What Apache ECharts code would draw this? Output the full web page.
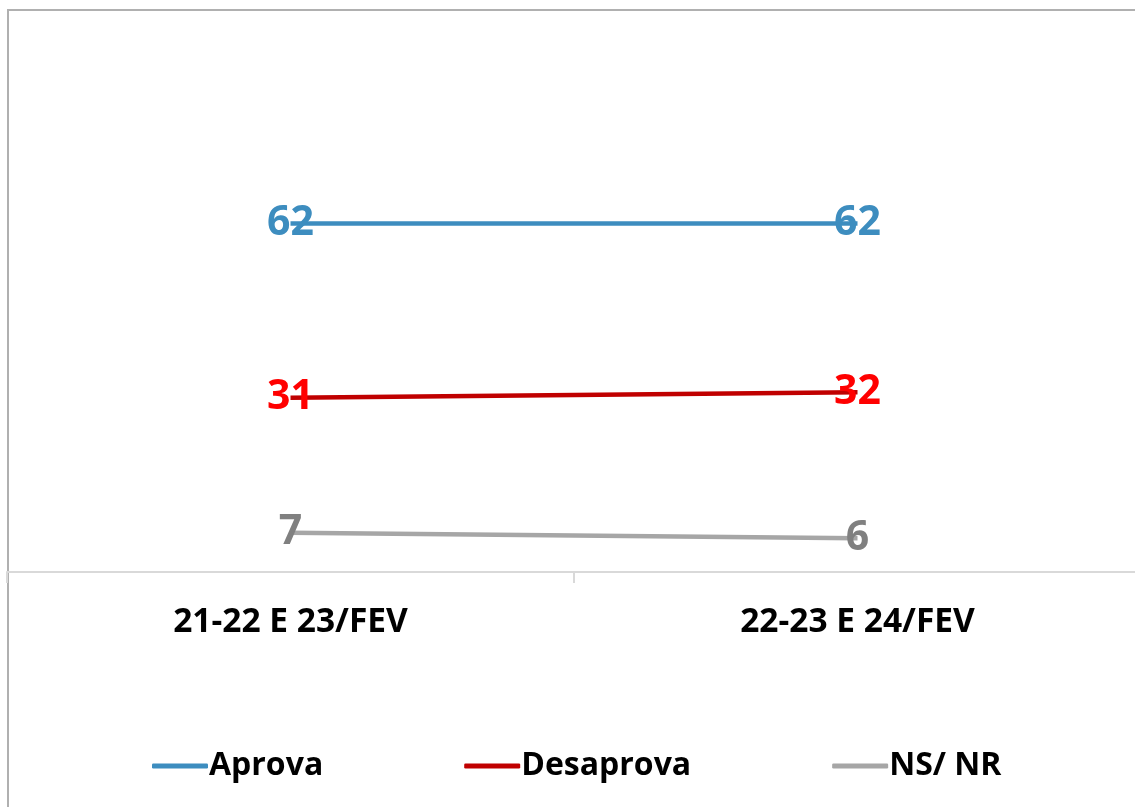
<!DOCTYPE html>
<html><head><meta charset="utf-8">
<script src="https://cdn.jsdelivr.net/npm/echarts@6/dist/echarts.min.js"></script>
<style>
html,body{margin:0;padding:0;background:#fff;overflow:hidden;width:1135px;height:807px;}
#frame{position:absolute;left:7px;top:9px;width:1128px;height:798px;border-left:2px solid #b0b0b0;border-top:2px solid #b0b0b0;box-sizing:border-box;}
#c{position:absolute;left:0;top:0;width:1135px;height:807px;}
</style></head>
<body>
<div id="frame"></div>
<div id="c"></div>
<script>
const categories = ['21-22 E 23/FEV', '22-23 E 24/FEV'];
const aprova = [62, 62];
const desaprova = [31, 32];
const nsnr = [7, 6];

const chart = echarts.init(document.getElementById('c'));
const font = 'Open Sans';
function s(name, data, lineColor, labelColor) {
  return {
    name: name, type: 'line', data: data, symbol: 'circle', symbolSize: 0, showSymbol: true,
    lineStyle: { color: lineColor, width: 4.5 },
    itemStyle: { color: lineColor },
    label: { show: true, position: 'inside', color: labelColor, fontSize: 41, fontWeight: 'bold', fontFamily: font },
    emphasis: { disabled: true }, animation: false
  };
}
chart.setOption({
  animation: false,
  grid: { left: 7, top: 10, width: 1134, height: 562, outerBoundsMode: 'none', containLabel: false },
  xAxis: {
    type: 'category', data: categories, boundaryGap: true,
    axisLine: { lineStyle: { color: '#d9d9d9', width: 2 } },
    axisTick: { show: true, length: 11, lineStyle: { color: '#d9d9d9', width: 2 } },
    axisLabel: { color: '#000', fontSize: 33.5, fontWeight: 'bold', fontFamily: font, margin: 33 }
  },
  yAxis: { type: 'value', min: 0, max: 100, show: false, splitLine: { show: false } },
  legend: {
    bottom: 20, left: 147, itemWidth: 56, itemHeight: 5, itemGap: 141,
    icon: 'roundRect',
    textStyle: { color: '#000', fontSize: 32, fontWeight: 'bold', fontFamily: font, padding: [0, 0, 0, -4] },
    data: ['Aprova', 'Desaprova', 'NS/ NR']
  },
  series: [
    s('Aprova', aprova, '#3d8dbf', '#3d8dbf'),
    s('Desaprova', desaprova, '#c00000', '#ff0000'),
    s('NS/ NR', nsnr, '#a6a6a6', '#808080')
  ]
});
</script>
</body></html>
